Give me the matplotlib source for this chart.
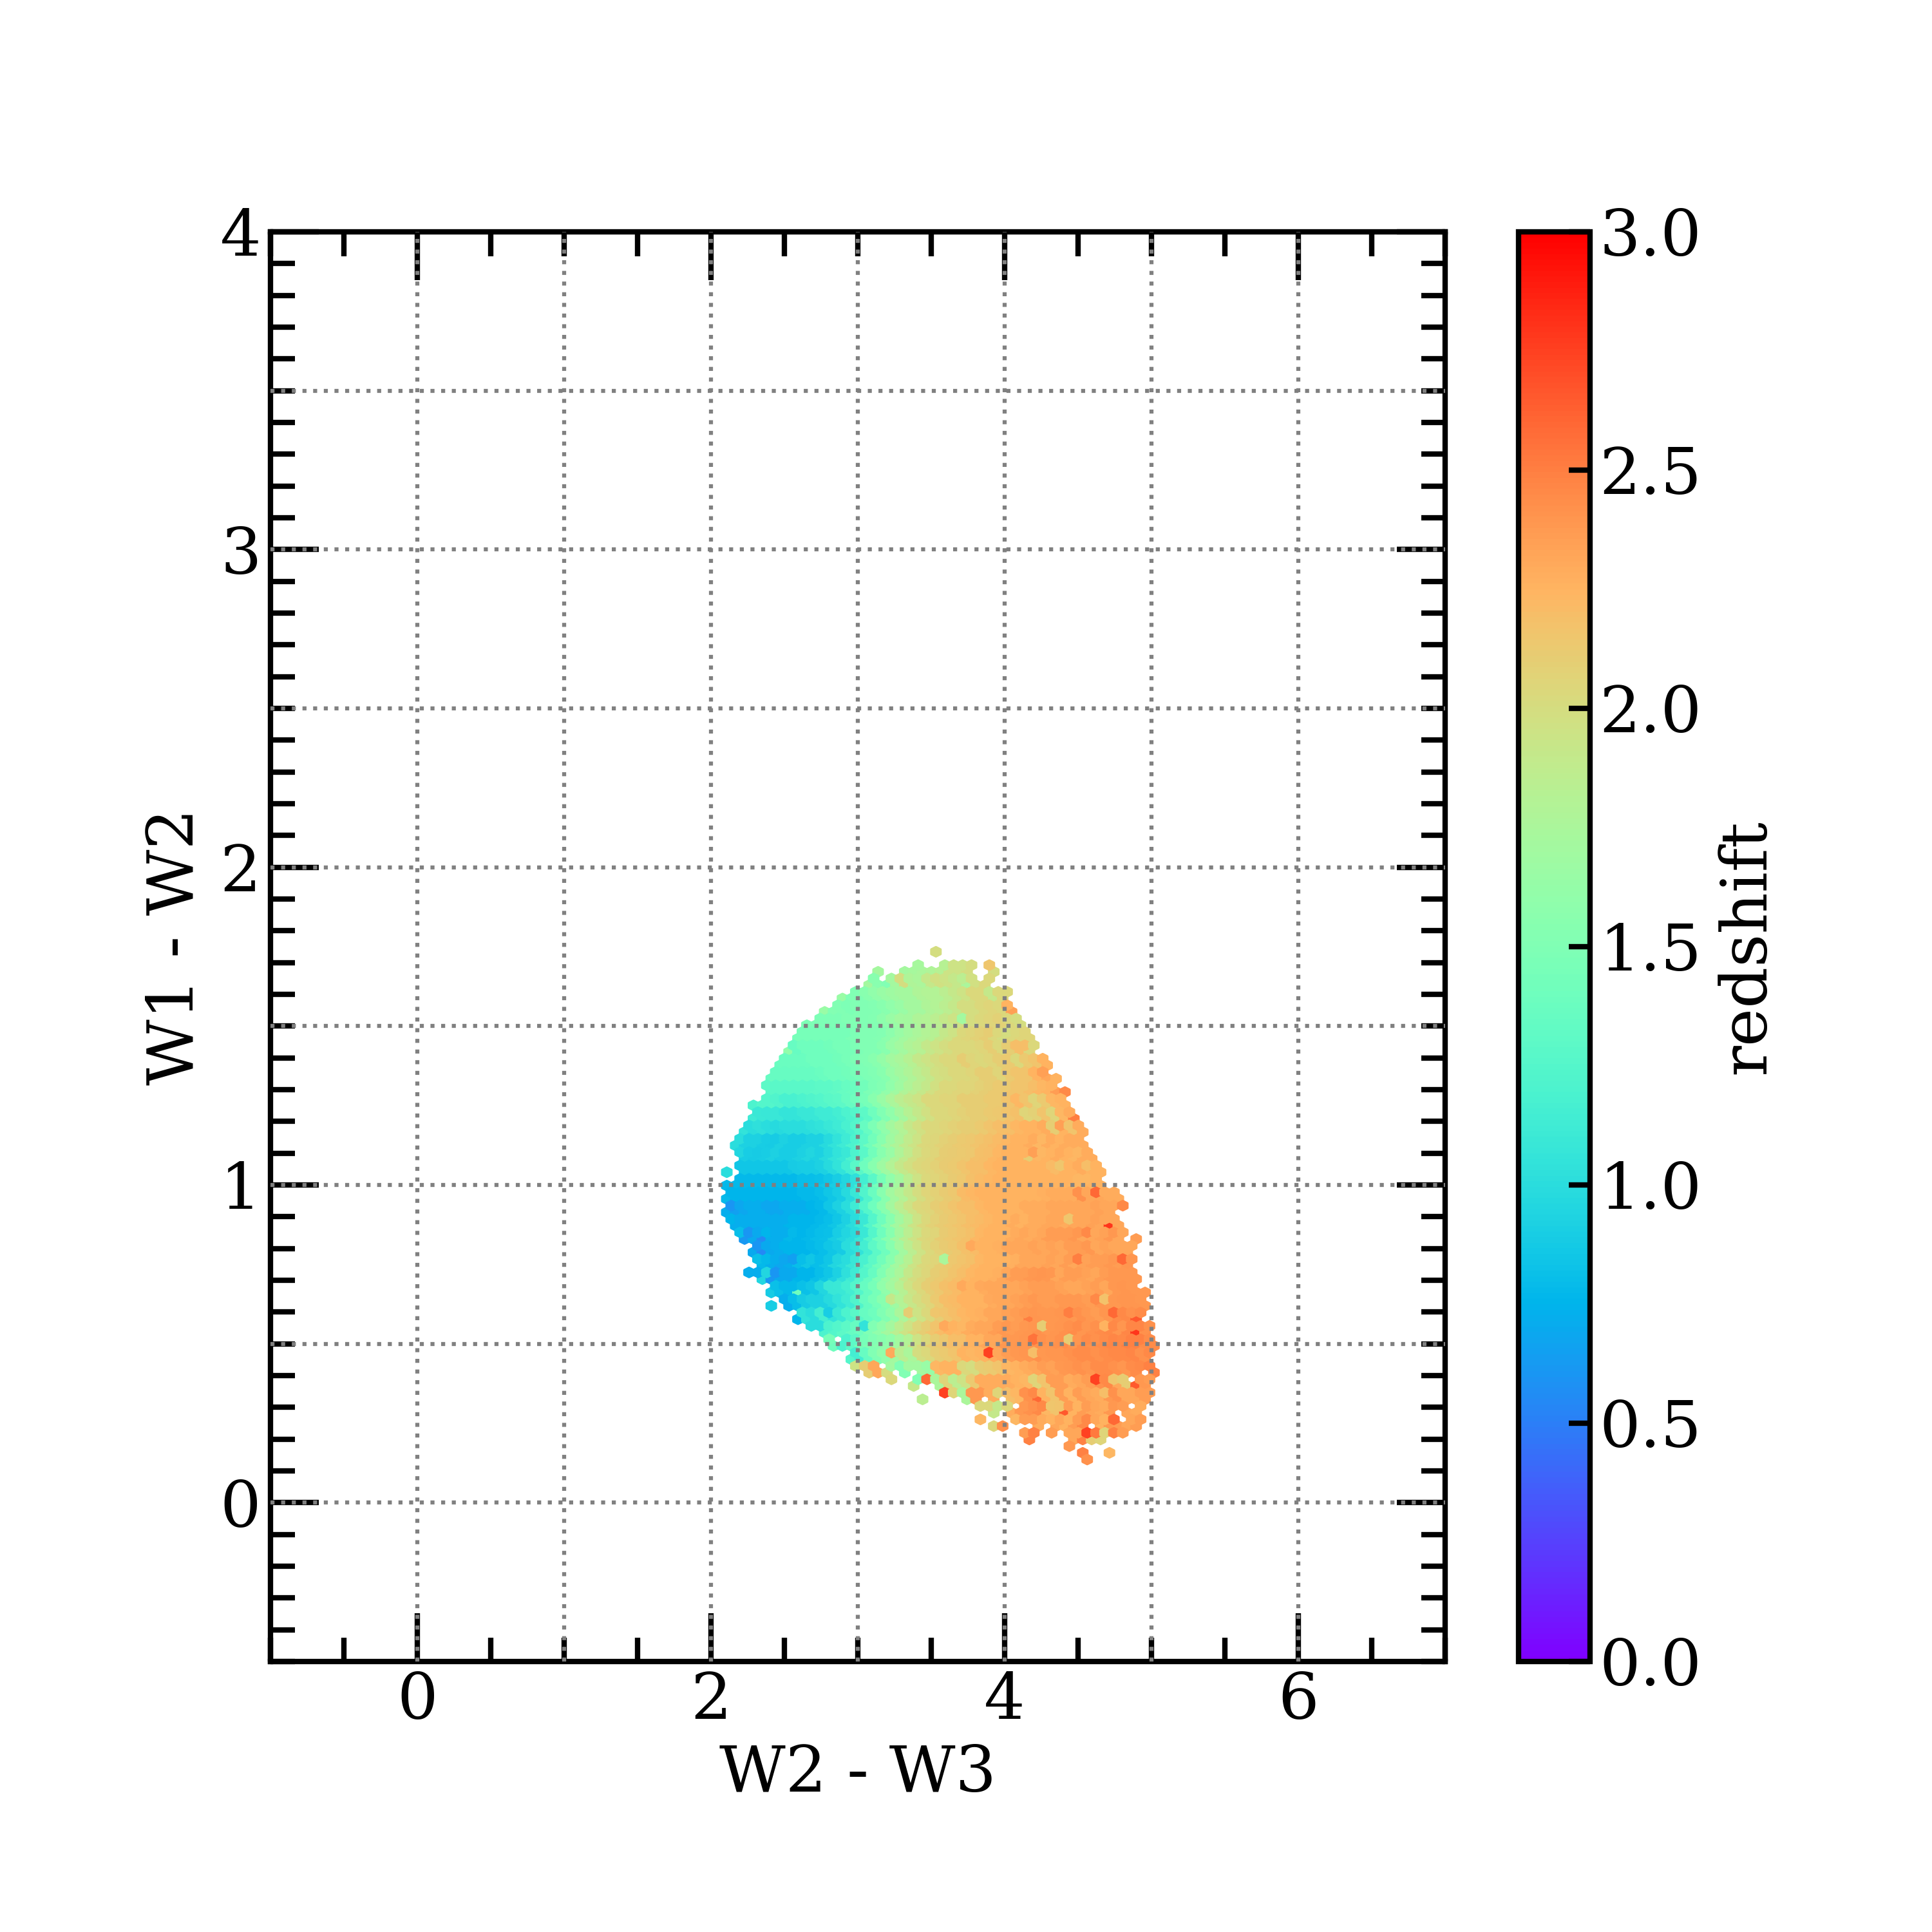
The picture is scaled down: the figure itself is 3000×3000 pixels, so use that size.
import numpy as np
import matplotlib
matplotlib.use('Agg')
import matplotlib.pyplot as plt
from matplotlib.ticker import MultipleLocator

plt.rcParams['font.family'] = 'DejaVu Serif'
plt.rcParams['font.size'] = 24

# outline of the cloud, one entry per hexagon row from top to bottom
row_left = [3.53, np.nan, 3.41, 3.14, 3.10, 3.07, 2.98, 2.89, 2.86, 2.77, 2.74, 2.65, 2.65, 2.62, 2.55, 2.52,
            2.49, 2.46, 2.43, 2.40, 2.40, 2.40, 2.37, 2.28, 2.31, 2.28, 2.25, 2.21, 2.19, 2.19, 2.19, 2.21,
            2.19, 2.10, 2.19, 2.13, 2.13, 2.10, 2.13, 2.10, 2.13, 2.16, 2.19, 2.21, 2.31, 2.28, 2.31, 2.34,
            2.25, 2.34, 2.43, 2.40, 2.49, 2.41, 2.61, 2.58, 2.67, 2.75, 2.80, 2.83, 3.00, 2.95, 2.99, 3.07,
            3.23, 3.38, 3.59, 3.44, 3.83, 3.92, 3.83, 3.92, 4.13, 4.17, 4.44, 4.54, 4.57]
row_right = [3.53, np.nan, 3.89, 3.93, 3.89, 3.86, 4.02, 3.99, 4.02, 4.05, 4.08, 4.11, 4.14, 4.17, 4.20, 4.17,
             4.26, 4.29, 4.26, 4.35, 4.32, 4.41, 4.38, 4.41, 4.44, 4.47, 4.50, 4.54, 4.50, 4.54, 4.56, 4.60,
             4.63, 4.66, 4.63, 4.65, 4.75, 4.78, 4.81, 4.72, 4.75, 4.78, 4.81, 4.90, 4.87, 4.84, 4.87, 4.84,
             4.87, 4.90, 4.87, 4.96, 4.93, 4.96, 4.90, 4.90, 4.99, 4.96, 4.96, 5.00, 5.00, 4.96, 5.00, 5.03,
             4.99, 4.96, 4.99, 4.96, 4.93, 4.89, 4.93, 4.89, 4.80, 4.66, 4.44, 4.71, 4.57]

# white gaps inside a row
gap_row = [2, 2, 3, 3, 4, 4, 33, 43, 53, 58, 62, 63, 63, 63, 64, 64, 65, 67, 67, 67, 68, 68, 68, 69, 69,
           70, 70, 70, 71, 71, 71, 72, 72, 73, 75]
gap_lo = [3.45, 3.80, 3.17, 3.80, 3.13, 3.80, 2.13, 4.82, 2.44, 2.84, 3.15, 3.25, 3.37, 4.95, 3.27, 4.85, 3.41,
          3.47, 3.85, 3.97, 3.96, 4.06, 4.86, 3.96, 4.76, 3.87, 4.16, 4.78, 4.02, 4.28, 4.58, 4.23, 4.35, 4.21,
          4.57]
gap_hi = [3.54, 3.87, 3.28, 3.89, 3.19, 3.86, 2.17, 4.86, 2.50, 2.87, 3.18, 3.27, 3.39, 4.98, 3.37, 4.88, 3.52,
          3.70, 3.88, 4.00, 4.00, 4.09, 4.88, 4.01, 4.79, 4.04, 4.19, 4.86, 4.20, 4.31, 4.61, 4.29, 4.41, 4.43,
          4.68]

# redshift x 100, each list covers two hexagon rows, starting at block_left
block_left = [3.53, 3.14, 3.07, 2.89, 2.77, 2.65, 2.62, 2.52, 2.46, 2.40, 2.37, 2.28, 2.28, 2.21, 2.19, 2.19,
              2.10, 2.13, 2.10, 2.10, 2.13, 2.19, 2.28, 2.31, 2.25, 2.40, 2.41, 2.58, 2.67, 2.80, 2.95, 2.99,
              3.23, 3.44, 3.83, 3.83, 4.13, 4.44, 4.57]
z_blocks = [
    [200],
    [172, 172, 172, 172, 173, 175, 178, 182, 195, 195, 200, 190, 195, 200, 210],
    [172, 155, 150, 172, 200, 178, 175, 190, 198, 195, 190, 185, 198, 203],
    [165, 150, 150, 155, 160, 165, 168, 172, 172, 178, 180, 180, 185, 190, 195, 203, 203, 190, 203],
    [165, 152, 150, 148, 150, 150, 152, 155, 160, 165, 172, 172, 178, 180, 185, 190, 200, 200, 203, 206, 203, 226],
    [148, 148, 148, 148, 148, 150, 150, 150, 152, 158, 165, 170, 172, 178, 180, 185, 190, 195, 200, 200, 203, 206, 208, 203, 200],
    [145, 145, 145, 145, 145, 145, 148, 150, 150, 152, 158, 165, 170, 175, 180, 182, 190, 195, 203, 206, 208, 210, 203, 200, 203, 206],
    [160, 135, 140, 140, 140, 142, 145, 145, 148, 150, 150, 155, 165, 170, 178, 182, 190, 195, 200, 203, 203, 203, 206, 210, 203, 210, 220, 203],
    [138, 138, 138, 138, 140, 140, 140, 142, 145, 148, 150, 155, 162, 170, 175, 182, 190, 195, 200, 203, 203, 210, 206, 203, 206, 210, 213, 203, 213, 216, 226],
    [135, 135, 135, 135, 135, 135, 138, 140, 140, 142, 145, 148, 150, 155, 165, 172, 178, 185, 190, 198, 200, 203, 203, 206, 210, 210, 206, 213, 216, 216, 226, 232, 226],
    [130, 128, 128, 128, 128, 128, 130, 130, 132, 135, 138, 142, 148, 152, 160, 168, 178, 185, 190, 198, 203, 203, 206, 206, 208, 210, 213, 213, 216, 216, 220, 223, 226, 236],
    [120, 125, 125, 122, 118, 118, 120, 122, 125, 128, 130, 135, 140, 145, 155, 165, 175, 185, 190, 195, 203, 203, 206, 206, 210, 210, 210, 213, 213, 216, 223, 216, 206, 213, 223, 226],
    [112, 110, 108, 108, 106, 106, 108, 108, 112, 112, 116, 120, 125, 130, 140, 150, 160, 172, 182, 190, 198, 203, 203, 206, 208, 210, 210, 213, 214, 216, 218, 206, 208, 216, 206, 223, 229],
    [105, 100, 102, 100, 98, 100, 100, 100, 102, 105, 108, 112, 118, 125, 135, 148, 160, 172, 180, 190, 198, 203, 203, 206, 208, 210, 210, 213, 216, 220, 220, 223, 225, 226, 229, 210, 226, 216, 229],
    [100, 92, 92, 90, 88, 92, 90, 90, 92, 92, 98, 105, 112, 120, 130, 142, 155, 168, 178, 188, 195, 203, 205, 208, 210, 213, 214, 216, 218, 221, 223, 225, 226, 229, 223, 229, 226, 229, 229],
    [95, 90, 88, 90, 92, 90, 90, 92, 95, 92, 98, 105, 110, 120, 128, 142, 155, 165, 178, 188, 198, 203, 206, 210, 212, 213, 214, 218, 220, 223, 225, 226, 226, 210, 223, 226, 229, 226, 223, 229],
    [100, 100, 85, 85, 85, 85, 85, 85, 88, 90, 90, 92, 98, 105, 115, 128, 140, 155, 168, 180, 190, 198, 203, 206, 208, 212, 213, 216, 220, 220, 223, 225, 226, 226, 225, 226, 225, 221, 225, 226, 229, 226, 226],
    [78, 78, 78, 78, 78, 78, 78, 78, 80, 80, 82, 85, 90, 95, 102, 115, 128, 145, 160, 172, 185, 195, 203, 206, 208, 212, 214, 218, 221, 223, 225, 226, 226, 226, 226, 225, 225, 226, 226, 223, 223, 225],
    [78, 75, 75, 75, 75, 75, 75, 75, 75, 78, 78, 80, 85, 90, 98, 108, 122, 138, 155, 170, 180, 190, 200, 206, 208, 212, 214, 221, 223, 225, 226, 226, 225, 225, 226, 226, 227, 229, 229, 229, 242, 232, 232, 229, 229],
    [72, 65, 68, 72, 72, 68, 68, 72, 72, 72, 75, 78, 85, 92, 100, 112, 125, 140, 155, 172, 185, 195, 203, 206, 210, 213, 216, 220, 220, 223, 226, 225, 226, 226, 229, 229, 229, 231, 231, 232, 232, 232, 234, 232, 231, 236],
    [75, 72, 72, 72, 72, 72, 72, 75, 75, 75, 78, 80, 85, 92, 100, 110, 125, 140, 155, 170, 182, 195, 203, 208, 212, 214, 216, 220, 221, 223, 226, 226, 229, 226, 229, 229, 231, 232, 229, 232, 232, 234, 232, 232],
    [80, 62, 70, 75, 72, 72, 78, 75, 78, 80, 82, 90, 95, 100, 110, 125, 140, 155, 172, 185, 195, 203, 206, 212, 214, 216, 218, 223, 225, 226, 226, 229, 231, 229, 232, 236, 236, 236, 239, 232, 232, 234, 238, 232, 236],
    [70, 60, 70, 72, 75, 75, 75, 78, 80, 85, 88, 100, 105, 115, 130, 140, 155, 170, 185, 195, 203, 208, 212, 214, 218, 221, 225, 226, 227, 231, 231, 232, 234, 232, 234, 232, 236, 236, 239, 232, 234, 231, 232],
    [82, 78, 72, 68, 72, 80, 85, 80, 85, 95, 100, 108, 118, 130, 142, 155, 170, 182, 195, 203, 206, 210, 214, 216, 218, 223, 226, 226, 226, 227, 231, 232, 232, 234, 232, 236, 232, 234, 236, 236, 239, 236, 240],
    [72, 72, 95, 62, 70, 70, 75, 75, 80, 85, 92, 102, 112, 125, 135, 150, 165, 175, 190, 200, 205, 210, 213, 216, 220, 223, 225, 226, 227, 232, 236, 236, 238, 240, 238, 232, 236, 236, 234, 232, 236, 238, 238, 239],
    [88, 82, 78, 78, 82, 85, 95, 108, 110, 115, 125, 135, 145, 160, 170, 182, 195, 203, 210, 214, 218, 221, 225, 226, 229, 232, 232, 231, 232, 234, 236, 236, 236, 234, 232, 232, 234, 236, 231, 238, 240, 238, 238],
    [90, 90, 72, 80, 88, 92, 92, 98, 105, 112, 122, 135, 145, 155, 168, 180, 192, 200, 206, 213, 220, 221, 225, 226, 226, 229, 232, 232, 234, 236, 238, 236, 236, 238, 238, 238, 236, 240, 238, 239, 240, 240, 239],
    [75, 105, 100, 115, 105, 110, 120, 128, 135, 140, 150, 160, 175, 185, 195, 203, 210, 216, 220, 223, 225, 227, 231, 232, 234, 236, 238, 240, 238, 239, 240, 238, 242, 238, 236, 240, 244, 245, 242, 244, 245],
    [100, 100, 120, 125, 130, 135, 140, 150, 160, 172, 185, 195, 205, 210, 216, 221, 225, 223, 229, 231, 232, 236, 238, 236, 238, 240, 242, 239, 240, 242, 244, 240, 242, 244, 245, 240, 247, 247, 242],
    [145, 140, 120, 130, 145, 150, 155, 160, 170, 180, 195, 203, 210, 214, 220, 220, 226, 226, 232, 232, 238, 238, 240, 240, 242, 240, 242, 244, 240, 244, 242, 244, 247, 245, 249, 249, 244],
    [125, 115, 135, 150, 160, 170, 185, 175, 200, 203, 210, 213, 216, 226, 223, 226, 229, 232, 236, 238, 240, 242, 239, 240, 240, 242, 244, 244, 242, 244, 245, 245, 247, 242, 245],
    [195, 210, 232, 200, 170, 150, 170, 170, 165, 223, 226, 226, 203, 200, 210, 213, 216, 223, 226, 229, 232, 236, 234, 238, 240, 242, 240, 244, 244, 242, 240, 244, 245, 249],
    [203, 190, 190, 150, 245, 175, 206, 185, 195, 213, 229, 229, 229, 229, 226, 223, 206, 216, 236, 236, 229, 232, 236, 242, 245, 232, 210, 232, 239, 236],
    [185, 180, 180, 206, 206, 175, 239, 239, 229, 206, 220, 223, 242, 245, 226, 216, 236, 226, 236, 232, 229, 239, 242, 232, 232, 236],
    [203, 203, 190, 203, 229, 239, 242, 245, 223, 216, 236, 226, 236, 232, 229, 239, 236, 232, 229],
    [223, 223, 203, 242, 223, 236, 236, 229, 226, 232, 226, 236, 245, 232, 226, 239, 236, 232, 236],
    [236, 249, 220, 236, 232, 232, 232, 249, 252, 206, 249, 236],
    [239, 239, 249, 249, 223],
    [242],
]

# single hexagons that stand out from their neighbours
speck_x = [2.13, 2.25, 2.34, 2.34, 2.43, 2.55, 2.58, 2.80, 3.04, 3.58, 3.53, 3.34, 3.22, 4.62, 4.81, 4.71, 4.56,
           4.44, 4.80, 4.50, 4.62, 4.68, 4.74, 4.90, 4.44, 4.16, 4.26, 4.68, 3.77, 3.58, 3.89, 3.71, 3.83, 4.20,
           4.38, 4.56, 3.71, 3.75, 3.89, 4.05, 4.14, 4.26, 4.41, 4.48, 4.38, 3.89, 3.23, 3.59, 3.46, 4.89, 4.89,
           4.62, 4.68, 4.75, 4.75, 4.56, 4.59, 4.23, 4.29, 4.43, 4.26, 4.20, 4.19, 4.43, 4.40, 4.34]
speck_y = [0.934, 0.851, 0.829, 0.788, 0.724, 0.766, 0.661, 0.598, 0.555, 0.555, 0.598, 0.598, 0.638, 0.977, 0.934,
           0.872, 0.851, 0.892, 0.766, 0.766, 0.640, 0.638, 0.598, 0.578, 0.598, 0.578, 0.555, 0.555, 0.811, 0.766,
           0.638, 0.681, 0.681, 1.105, 1.062, 1.062, 1.526, 1.630, 1.694, 1.548, 1.441, 1.358, 1.293, 1.210, 1.188,
           0.472, 0.472, 0.345, 0.387, 0.537, 0.367, 0.391, 0.345, 0.385, 0.259, 0.219, 0.195, 0.345, 0.304, 0.517,
           0.557, 0.472, 0.513, 0.600, 0.284, 0.304]
speck_z = [0.60, 0.60, 0.55, 0.55, 0.60, 0.65, 1.40, 0.90, 1.05, 2.30, 2.15, 2.10, 1.90, 2.60, 2.45, 2.80, 2.45,
           2.15, 2.60, 2.50, 2.45, 2.17, 2.60, 2.65, 2.50, 2.50, 2.15, 2.25, 2.30, 1.75, 2.30, 2.30, 2.30, 2.35,
           2.15, 2.20, 1.70, 1.75, 2.15, 2.35, 2.20, 2.35, 2.45, 2.50, 2.35, 2.75, 2.30, 2.75, 2.60, 2.80, 2.65,
           2.75, 2.20, 2.15, 2.60, 2.75, 2.10, 2.60, 2.60, 2.10, 2.10, 2.20, 2.55, 2.50, 2.65, 2.15]

x_ticks_major = [0, 2, 4, 6]
y_ticks_major = [0, 1, 2, 3, 4]
grid_x = [0, 1, 2, 3, 4, 5, 6]
grid_y = [0, 0.5, 1, 1.5, 2, 2.5, 3, 3.5]
cbar_ticks = [0, 0.5, 1, 1.5, 2, 2.5, 3]

# hexagon lattice, even rows sit on the lattice hexbin draws last
nx, ny = 132, 107
sx, sy = 8 / nx, 4.5 / ny
top_x, top_y = 3.532, 1.734
xmin, ymin = top_x - 75.5 * sx, top_y - 53.5 * sy

xs, ys, zs = [], [], []
for r, (lo, hi) in enumerate(zip(row_left, row_right)):
    if np.isnan(lo):
        continue
    shift = 0.5 * (r % 2)
    c0 = int(round((lo - top_x) / sx - shift))
    c1 = int(round((hi - top_x) / sx - shift))
    k = r // 2
    vals = z_blocks[k]
    for c in range(c0, c1 + 1):
        x = top_x + (c + shift) * sx
        if any(g == r and a <= x <= b for g, a, b in zip(gap_row, gap_lo, gap_hi)):
            continue
        i = int(round((x - block_left[k]) / sx))
        xs.append(x)
        ys.append(top_y - r * sy / 2)
        zs.append(vals[min(max(i, 0), len(vals) - 1)] / 100)
xs, ys, zs = np.array(xs), np.array(ys), np.array(zs)

for px, py, pz in zip(speck_x, speck_y, speck_z):
    d = ((xs - px) / sx) ** 2 + ((ys - py) / sy) ** 2
    zs[np.argmin(d)] = pz

fig = plt.figure(figsize=(10, 10))
ax = fig.add_axes([0.14, 0.14, 0.608, 0.74])

hb = ax.hexbin(xs, ys, C=zs, gridsize=(nx, ny), cmap='rainbow', vmin=0, vmax=3,
               extent=(xmin, xmin + 8, ymin, ymin + 4.5), reduce_C_function=np.mean)

ax.set_xlim(-1, 7)
ax.set_ylim(-0.5, 4)
ax.set_xticks(x_ticks_major)
ax.set_yticks(y_ticks_major)
ax.xaxis.set_minor_locator(MultipleLocator(0.5))
ax.yaxis.set_minor_locator(MultipleLocator(0.1))
ax.tick_params(which='major', direction='in', top=True, right=True, length=18, width=2, pad=3.5)
ax.tick_params(which='minor', direction='in', top=True, right=True, length=9, width=2)
for s in ax.spines.values():
    s.set_linewidth(2)

for g in grid_x:
    ax.axvline(g, color='gray', ls=':', lw=1.5, zorder=3)
for g in grid_y:
    ax.axhline(g, color='gray', ls=':', lw=1.5, zorder=3)

ax.set_xlabel('W2 - W3')
ax.set_ylabel('W1 - W2', labelpad=5)

cax = fig.add_axes([0.786, 0.14, 0.037, 0.74])
cb = fig.colorbar(hb, cax=cax)
cb.set_ticks(cbar_ticks)
cb.minorticks_off()
cb.ax.tick_params(direction='in', length=8, width=2, pad=3.5)
cb.outline.set_linewidth(2)
cb.set_label('redshift', labelpad=5.5)

fig.savefig('out.png', dpi=300)
